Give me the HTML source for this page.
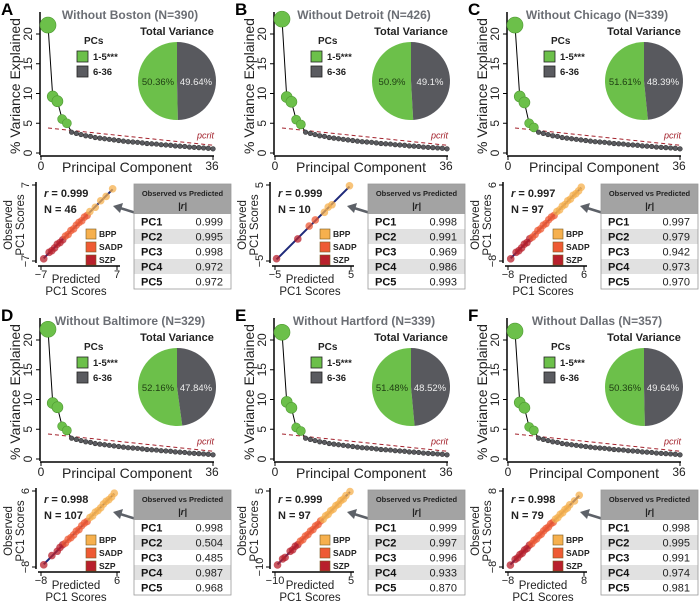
<!DOCTYPE html>
<html><head><meta charset="utf-8">
<style>
body{margin:0;background:#fff;}
svg{display:block;font-family:"Liberation Sans",Arial,sans-serif;}
</style></head>
<body>
<svg id="fig" width="700" height="601" viewBox="0 0 700 601" xmlns="http://www.w3.org/2000/svg"></svg>
<script>
const panelLetters=["A","B","C","D","E","F"];
const cities=["Boston","Detroit","Chicago","Baltimore","Hartford","Dallas"];
const cityN=[390,426,339,329,339,357];
const topPCs=[[21.5,9.5,8.7,5.7,5.0],[22.5,9.4,8.6,5.6,4.8],[21.5,9.5,8.5,5.0,4.3],[21.8,9.4,8.7,5.5,4.8],[21.3,9.6,8.6,5.3,4.7],[21.5,9.5,8.6,5.4,4.8]];
const tailPCs=[3.5,3.3,3.1,2.9,2.8,2.6,2.5,2.4,2.3,2.2,2.1,2.0,1.9,1.85,1.8,1.7,1.6,1.55,1.5,1.4,1.35,1.3,1.2,1.15,1.1,1.0,0.95,0.9,0.85,0.8,0.7];
const pcritStart=4.2, pcritEnd=1.3;
const yTicks=[0,5,10,15,20];
const greenPct=[50.36,50.9,51.61,52.16,51.48,50.36];
const greyPct=[49.64,49.1,48.39,47.84,48.52,49.64];
const rVals=["0.999","0.999","0.997","0.998","0.999","0.998"];
const nVals=[46,10,97,107,97,79];
const scatMin=[-7,-5,-8,-8,-10,-8];
const scatMax=[7,5,6,6,5,8];
const scatPred=[
[-6.5,-5.5,-5,-4.5,-4,-3.5,-3,-2.5,-2,-1.5,-1,-0.5,0,0.5,1,1.5,2,3,4,5,6.2],
[-4.8,-2,-0.5,0.3,1.5,2,2.5,4.8],
[-7.5,-6.5,-6,-5.5,-5,-4.5,-4,-3.5,-3,-2.5,-2,-1.5,-1,-0.5,0,0.5,1,1.5,2,2.5,3,3.5,4,4.5,5,5.5],
[-7.5,-6,-5,-4.5,-4,-3.5,-3,-2.5,-2,-1.5,-1,-0.5,0,0.5,1,1.5,2,2.5,3,3.5,4,4.5,5,5.5],
[-9.5,-8.5,-8,-7,-6.5,-6,-5.5,-5,-4.5,-4,-3.5,-3,-2.5,-2,-1.5,-1,-0.5,0,0.5,1,1.5,2,2.5,3,3.5,4,4.8],
[-7.5,-6.5,-6,-5.5,-5,-4.5,-4,-3.5,-3,-2.5,-2,-1.5,-1,-0.5,0,0.5,1,1.5,2,2.5,3,3.5,4,4.5,5,6,7]];
const scatObs=[
[-6.6,-5.4,-5.1,-4.6,-3.9,-3.6,-3.1,-2.4,-2.1,-1.4,-1.1,-0.4,0.1,0.4,1.1,1.4,2.1,2.9,4.1,4.9,6.3],
[-4.7,-2.1,-0.4,0.4,1.4,2.1,2.4,4.9],
[-7.6,-6.4,-6.1,-5.6,-4.9,-4.6,-3.9,-3.6,-3.1,-2.4,-2.1,-1.4,-1.1,-0.4,0.1,0.4,1.1,1.4,2.1,2.4,3.1,3.4,4.1,4.4,4.9,5.6],
[-7.6,-5.9,-5.1,-4.4,-3.9,-3.6,-2.9,-2.6,-2.1,-1.4,-1.1,-0.4,0.1,0.4,1.1,1.4,2.1,2.4,2.9,3.6,4.1,4.4,4.9,5.6],
[-9.6,-8.4,-8.1,-6.9,-6.6,-5.9,-5.6,-4.9,-4.6,-3.9,-3.6,-2.9,-2.6,-1.9,-1.6,-0.9,-0.6,0.1,0.4,1.1,1.4,2.1,2.4,3.1,3.4,4.1,4.9],
[-7.6,-6.4,-6.1,-5.4,-5.1,-4.4,-4.1,-3.4,-3.1,-2.4,-2.1,-1.4,-1.1,-0.4,0.1,0.4,1.1,1.4,2.1,2.4,3.1,3.4,4.1,4.4,5.1,5.9,7.1]];
const tableR=[
["0.999","0.995","0.998","0.972","0.972"],
["0.998","0.991","0.969","0.986","0.993"],
["0.997","0.979","0.942","0.973","0.970"],
["0.998","0.504","0.485","0.987","0.968"],
["0.999","0.997","0.996","0.933","0.870"],
["0.998","0.995","0.991","0.974","0.981"]];
const pcNames=["PC1","PC2","PC3","PC4","PC5"];
const groupNames=["BPP","SADP","SZP"];
const groupCols=["#f6b04e","#ee5a34","#b8202c"];

const NS="http://www.w3.org/2000/svg";
const svg=document.getElementById("fig");
function mk(tag,attrs,parent,text){const e=document.createElementNS(NS,tag);for(const k in attrs)e.setAttribute(k,attrs[k]);if(text!==undefined)e.textContent=text;parent.appendChild(e);return e;}

const offX=[0,234,467,0,234,467];
const offY=[0,0,0,306,306,306];

for(let p=0;p<6;p++){
  const g=mk("g",{transform:`translate(${offX[p]},${offY[p]})`},svg);
  
  
  let t=mk("text",{x:1,y:15,"font-size":17,"font-weight":"bold",fill:"#000"},g,panelLetters[p]);
  
  t=mk("text",{x:130,y:19,"font-size":12,"font-weight":"bold",fill:"#6b6e74","text-anchor":"middle"},g,`Without ${cities[p]} (N=${cityN[p]})`);
  
  const ax0=40, ax1=214, ay0=153;
  const xs=i=>48+(i-1)*(213-48)/35;
  const ys=v=>ay0-v*5.95;
  let l=mk("line",{x1:ax0,y1:12,x2:ax0,y2:ay0+2,stroke:"#000","stroke-width":1.5},g);
  
  l=mk("line",{x1:ax0,y1:ay0+3,x2:ax1,y2:ay0+3,stroke:"#000","stroke-width":1.5},g);
  
  for(const v of yTicks){
    mk("line",{x1:ax0-4,y1:ys(v),x2:ax0,y2:ys(v),stroke:"#000"},g);
    t=mk("text",{x:0,y:0,"font-size":12,fill:"#222","text-anchor":"middle",transform:`translate(${ax0-8},${ys(v)}) rotate(-90)`},g,String(v));
    
  }
  mk("line",{x1:41,y1:ay0+3,x2:41,y2:ay0+7,stroke:"#000"},g);
  mk("line",{x1:213,y1:ay0+3,x2:213,y2:ay0+7,stroke:"#000"},g);
  t=mk("text",{x:41,y:ay0+17,"font-size":12,"text-anchor":"middle",fill:"#222"},g,"0");
  
  t=mk("text",{x:212,y:ay0+17,"font-size":12,"text-anchor":"middle",fill:"#222"},g,"36");
  
  t=mk("text",{x:127,y:ay0+19,"font-size":14,"text-anchor":"middle",fill:"#222"},g,"Principal Component");
  
  t=mk("text",{x:0,y:0,"font-size":14,"text-anchor":"middle",fill:"#222",transform:`translate(20,86) rotate(-90)`},g,"% Variance Explained");
  
  l=mk("line",{x1:xs(1),y1:ys(pcritStart),x2:xs(36),y2:ys(pcritEnd),stroke:"#a3222c","stroke-width":1,"stroke-dasharray":"4,3"},g);
  
  t=mk("text",{x:197,y:ys(pcritEnd)-7,"font-size":9,"font-style":"italic",fill:"#a3222c"},g,"pcrit");
  
  const vals=topPCs[p].concat(tailPCs);
  let d="";vals.forEach((v,i)=>{d+=(i?"L":"M")+xs(i+1)+","+ys(v);});
  l=mk("path",{d:d,fill:"none",stroke:"#000","stroke-width":1},g);
  
  vals.forEach((v,i)=>{
    const big=i<5;
    const r=i===0?8:(i<3?5.5:(i<5?4.5:2.3));
    const c=mk("circle",{cx:xs(i+1),cy:ys(v),r:r,fill:big?"#6cc04a":"#5a5b60",stroke:big?"#4f9a33":"#333","stroke-width":0.6},g);
    
  });
  t=mk("text",{x:84,y:44,"font-size":10,"font-weight":"bold",fill:"#222"},g,"PCs");
  
  let r=mk("rect",{x:77,y:51,width:11,height:11,fill:"#6cc04a",stroke:"#222","stroke-width":0.8},g);
  
  t=mk("text",{x:93,y:60,"font-size":9.5,"font-weight":"bold",fill:"#222"},g,"1-5***");
  
  r=mk("rect",{x:77,y:66,width:11,height:11,fill:"#5a5b60",stroke:"#222","stroke-width":0.8},g);
  
  t=mk("text",{x:93,y:75,"font-size":9.5,"font-weight":"bold",fill:"#222"},g,"6-36");
  
  const pcx=177,pcy=81,pr=39;
  t=mk("text",{x:pcx,y:35,"font-size":11,"font-weight":"bold",fill:"#222","text-anchor":"middle"},g,"Total Variance");
  
  const gf=greenPct[p]/100;
  const a=2*Math.PI*gf;
  const ex=pcx-pr*Math.sin(a), ey=pcy-pr*Math.cos(a);
  const large=gf>0.5?1:0;
  let s=mk("path",{d:`M${pcx},${pcy} L${pcx},${pcy-pr} A${pr},${pr} 0 ${large} 0 ${ex},${ey} Z`,fill:"#6cc04a"},g);
  
  s=mk("path",{d:`M${pcx},${pcy} L${ex},${ey} A${pr},${pr} 0 ${1-large} 0 ${pcx},${pcy-pr} Z`,fill:"#58595e"},g);
  
  t=mk("text",{x:pcx-19,y:pcy+4,"font-size":9.5,fill:"#1e3d12","text-anchor":"middle"},g,greenPct[p]+"%");
  
  t=mk("text",{x:pcx+19,y:pcy+4,"font-size":9.5,fill:"#eee","text-anchor":"middle"},g,greyPct[p]+"%");
  
  const sx0=41,sx1=117,sy0=261,sy1=185;
  const mn=scatMin[p],mx=scatMax[p];
  const sxs=v=>sx0+(v-mn)/(mx-mn)*(sx1-sx0);
  const sys=v=>sy0-(v-mn)/(mx-mn)*(sy0-sy1);
  l=mk("line",{x1:36,y1:sy1-3,x2:36,y2:sy0+2,stroke:"#000","stroke-width":1.5},g);
  
  l=mk("line",{x1:38,y1:sy0+5,x2:sx1+3,y2:sy0+5,stroke:"#000","stroke-width":1.5},g);
  
  [[mn,sy0],[mx,sy1]].forEach(([v,yy])=>{
    mk("line",{x1:32,y1:yy,x2:36,y2:yy,stroke:"#000"},g);
    const tt=mk("text",{x:0,y:0,"font-size":11,"text-anchor":"middle",fill:"#222",transform:`translate(29,${yy}) rotate(-90)`},g,String(v).replace("-","\u2212"));
    
  });
  [[mn,sx0],[mx,sx1]].forEach(([v,xx])=>{
    mk("line",{x1:xx,y1:sy0+5,x2:xx,y2:sy0+9,stroke:"#000"},g);
    const tt=mk("text",{x:xx,y:sy0+17,"font-size":11,"text-anchor":"middle",fill:"#222"},g,String(v).replace("-","\u2212"));
    
  });
  t=mk("text",{x:0,y:0,"font-size":11.5,"text-anchor":"middle",fill:"#222",transform:`translate(12,225) rotate(-90)`},g,"Observed");
  
  t=mk("text",{x:0,y:0,"font-size":11.5,"text-anchor":"middle",fill:"#222",transform:`translate(24,225) rotate(-90)`},g,"PC1 Scores");
  
  t=mk("text",{x:76,y:283,"font-size":11.5,"text-anchor":"middle",fill:"#222"},g,"Predicted");
  
  t=mk("text",{x:76,y:295,"font-size":11.5,"text-anchor":"middle",fill:"#222"},g,"PC1 Scores");
  
  const pr0=scatPred[p],ob=scatObs[p];
  l=mk("line",{x1:sxs(pr0[0]),y1:sys(pr0[0]),x2:sxs(pr0[pr0.length-1]),y2:sys(pr0[pr0.length-1]),stroke:"#1f2a7a","stroke-width":2},g);
  
  pr0.forEach((v,i)=>{
    const frac=(v-mn)/(mx-mn);
    const col=frac>0.62?groupCols[0]:(frac>0.3?groupCols[1]:groupCols[2]);
    const c=mk("circle",{cx:sxs(v),cy:sys(ob[i]),r:3.8,fill:col,"fill-opacity":0.75},g);
    
  });
  t=mk("text",{x:44,y:197,"font-size":11,"font-weight":"bold",fill:"#222"},g);
  mk("tspan",{"font-style":"italic"},t,"r");
  mk("tspan",{},t," = "+rVals[p]);
  
  t=mk("text",{x:44,y:213,"font-size":11,"font-weight":"bold",fill:"#222"},g,"N = "+nVals[p]);
  
  groupNames.forEach((nm,i)=>{
    const rr=mk("rect",{x:86,y:229+i*13,width:10,height:10,fill:groupCols[i],stroke:"#7a5a20","stroke-width":0.6},g);
    
    const tt=mk("text",{x:99,y:237+i*13,"font-size":8.5,"font-weight":"bold",fill:"#222"},g,nm);
    
  });
  l=mk("line",{x1:146,y1:216,x2:120,y2:208,stroke:"#5d6168","stroke-width":2.5},g);
  
  mk("path",{d:"M113,206 L123,203 L120,213 Z",fill:"#5d6168"},g);
  const tx=134,tw=97,ty=184;
  r=mk("rect",{x:tx,y:ty,width:tw,height:30,fill:"#a3a3a3"},g);
  
  t=mk("text",{x:tx+tw/2,y:ty+12,"font-size":7.5,"font-weight":"bold",fill:"#222","text-anchor":"middle"},g,"Observed vs Predicted");
  
  t=mk("text",{x:tx+tw/2,y:ty+25,"font-size":9.5,"font-weight":"bold","font-style":"italic",fill:"#222","text-anchor":"middle"},g,"|r|");
  
  for(let i=0;i<5;i++){
    const yy=ty+30+i*15;
    const rr=mk("rect",{x:tx,y:yy,width:tw,height:15,fill:i%2?"#e1e1e1":"#fff"},g);
    
    let tt=mk("text",{x:tx+7,y:yy+11.5,"font-size":11,"font-weight":"bold",fill:"#111"},g,pcNames[i]);
    
    tt=mk("text",{x:tx+tw-8,y:yy+11.5,"font-size":11,fill:"#222","text-anchor":"end"},g,tableR[p][i]);
    
  }
  r=mk("rect",{x:tx,y:ty,width:tw,height:105,fill:"none",stroke:"#999","stroke-width":0.8},g);
  
}
</script>
</body></html>
